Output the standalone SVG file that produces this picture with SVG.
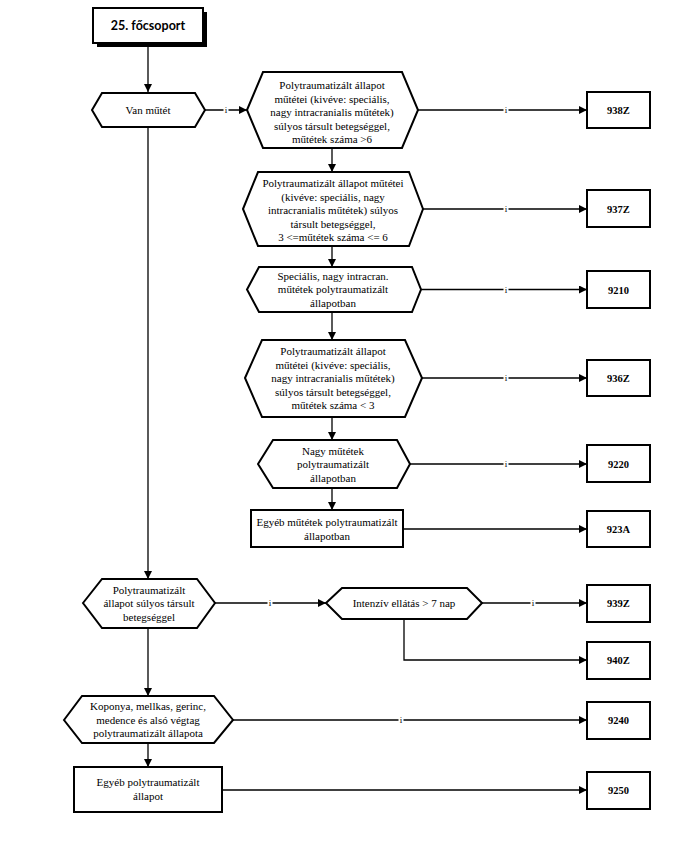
<svg xmlns="http://www.w3.org/2000/svg" width="692" height="864" viewBox="0 0 692 864">
<defs>
<marker id="ah" viewBox="0 0 10 10" refX="10" refY="5" markerWidth="8" markerHeight="8" markerUnits="userSpaceOnUse" orient="auto">
<path d="M0,0 L10,5 L0,10 z" fill="#000"/>
</marker>
<style>
.n{fill:#fff;stroke:#000;stroke-width:2}
.t{font-size:11px;fill:#000;text-anchor:middle}
.c{font-size:10.5px;font-weight:bold;fill:#000;text-anchor:middle}
.e{fill:none;stroke:#000;stroke-width:1.3}
.a{marker-end:url(#ah)}
.l{font-size:9px;fill:#000;text-anchor:middle}
</style>
</defs>
<rect width="692" height="864" fill="#fff"/>
<g font-family="Liberation Serif, Tinos, DejaVu Serif, Times New Roman, serif">
<g id="connectors">
<path class="e a" d="M148,45 V92"/>
<path class="e a" d="M205,110 H247"/>
<path class="e a" d="M148,127 V579"/>
<path class="e a" d="M418,110 H587"/>
<path class="e a" d="M332,148 V172"/>
<path class="e a" d="M423,209 H587"/>
<path class="e a" d="M332,246 V267"/>
<path class="e a" d="M421,289.5 H587"/>
<path class="e a" d="M332,312 V340"/>
<path class="e a" d="M422,378 H587"/>
<path class="e a" d="M332,417 V440"/>
<path class="e a" d="M410,464 H587"/>
<path class="e a" d="M332,488 V510"/>
<path class="e a" d="M403,529 H587"/>
<path class="e a" d="M215,603 H326"/>
<path class="e a" d="M482,603 H587"/>
<path class="e a" d="M404,619 V660 H587"/>
<path class="e a" d="M148,628 V696"/>
<path class="e a" d="M233,720 H587"/>
<path class="e a" d="M148,743 V767"/>
<path class="e a" d="M222,790 H587"/>
<g fill="#fff">
<rect x="223.5" y="104" width="5" height="12"/>
<rect x="503.5" y="104" width="5" height="12"/>
<rect x="503.5" y="203" width="5" height="12"/>
<rect x="503.5" y="283.5" width="5" height="12"/>
<rect x="503.5" y="372" width="5" height="12"/>
<rect x="503.5" y="458" width="5" height="12"/>
<rect x="267.5" y="597" width="5" height="12"/>
<rect x="530.5" y="597" width="5" height="12"/>
<rect x="398.5" y="714" width="5" height="12"/>
</g>
<text class="l" x="226" y="113">i</text>
<text class="l" x="506" y="113">i</text>
<text class="l" x="506" y="212">i</text>
<text class="l" x="506" y="292.5">i</text>
<text class="l" x="506" y="381">i</text>
<text class="l" x="506" y="467">i</text>
<text class="l" x="270" y="606">i</text>
<text class="l" x="533" y="606">i</text>
<text class="l" x="401" y="723">i</text>
</g>

<g id="start">
<rect x="97" y="12" width="110" height="35" fill="#000"/>
<rect class="n" x="93" y="8" width="110" height="35"/>
<text x="148" y="30" font-family="Lato, Open Sans, sans-serif" font-size="12.5" font-weight="bold" text-anchor="middle">25. főcsoport</text>
</g>

<g id="van_mutet">
<path class="n" d="M92,110 L102,93 H195 L205,110 L195,127 H102 z"/>
<text class="t" x="148" y="114">Van műtét</text>
</g>

<g id="h1">
<path class="n" d="M247,110 L263,72 H402 L418,110 L402,148 H263 z"/>
<text class="t" x="332" y="89">Polytraumatizált állapot</text>
<text class="t" x="332" y="102.5">műtétei (kivéve: speciális,</text>
<text class="t" x="332" y="116">nagy intracranialis műtétek)</text>
<text class="t" x="332" y="129.5">súlyos társult betegséggel,</text>
<text class="t" x="332" y="143">műtétek száma &gt;6</text>
</g>

<g id="h2">
<path class="n" d="M243,209 L258,172 H409 L423,209 L409,246 H258 z"/>
<text class="t" x="333" y="187">Polytraumatizált állapot műtétei</text>
<text class="t" x="333" y="200.5">(kivéve: speciális, nagy</text>
<text class="t" x="333" y="214">intracranialis műtétek) súlyos</text>
<text class="t" x="333" y="227.5">társult betegséggel,</text>
<text class="t" x="333" y="241">3 &lt;=műtétek száma &lt;= 6</text>
</g>

<g id="h3">
<path class="n" d="M247,289.5 L259,267 H412 L421,289.5 L412,312 H259 z"/>
<text class="t" x="333" y="279.5">Speciális, nagy intracran.</text>
<text class="t" x="333" y="293">műtétek polytraumatizált</text>
<text class="t" x="333" y="306.5">állapotban</text>
</g>

<g id="h4">
<path class="n" d="M245,378 L262,340 H405 L422,378 L405,417 H262 z"/>
<text class="t" x="333" y="355">Polytraumatizált állapot</text>
<text class="t" x="333" y="368.5">műtétei (kivéve: speciális,</text>
<text class="t" x="333" y="382">nagy intracranialis műtétek)</text>
<text class="t" x="333" y="395.5">súlyos társult betegséggel,</text>
<text class="t" x="333" y="409">műtétek száma &lt; 3</text>
</g>

<g id="h5">
<path class="n" d="M258,464 L273,440 H397 L410,464 L397,488 H273 z"/>
<text class="t" x="333" y="454.5">Nagy műtétek</text>
<text class="t" x="333" y="468">polytraumatizált</text>
<text class="t" x="333" y="481.5">állapotban</text>
</g>

<g id="b_egyeb_mutetek">
<rect class="n" x="251" y="510" width="152" height="37"/>
<text class="t" x="327" y="526">Egyéb műtétek polytraumatizált</text>
<text class="t" x="327" y="539.5">állapotban</text>
</g>

<g id="h_polytr">
<path class="n" d="M83,603 L102,579 H197 L215,603 L197,628 H102 z"/>
<text class="t" x="149" y="593.5">Polytraumatizált</text>
<text class="t" x="149" y="607">állapot súlyos társult</text>
<text class="t" x="149" y="620.5">betegséggel</text>
</g>

<g id="h_intenziv">
<path class="n" d="M326,603 L342,588 H467 L482,603 L467,619 H342 z"/>
<text class="t" x="404" y="607">Intenzív ellátás &gt; 7 nap</text>
</g>

<g id="h_koponya">
<path class="n" d="M64,720 L82,696 H214 L233,720 L214,743 H82 z"/>
<text class="t" x="148" y="710">Koponya, mellkas, gerinc,</text>
<text class="t" x="148" y="723.5">medence és alsó végtag</text>
<text class="t" x="148" y="737">polytraumatizált állapota</text>
</g>

<g id="b_egyeb_polytr">
<rect class="n" x="74" y="767" width="148" height="45"/>
<text class="t" x="148" y="786">Egyéb polytraumatizált</text>
<text class="t" x="148" y="799.5">állapot</text>
</g>

<g id="o938Z"><rect class="n" x="587" y="92" width="63" height="36"/><text class="c" x="618.5" y="114">938Z</text></g>
<g id="o937Z"><rect class="n" x="587" y="190" width="63" height="37"/><text class="c" x="618.5" y="212.5">937Z</text></g>
<g id="o9210"><rect class="n" x="587" y="271" width="63" height="37"/><text class="c" x="618.5" y="293.5">9210</text></g>
<g id="o936Z"><rect class="n" x="587" y="360" width="63" height="36"/><text class="c" x="618.5" y="382">936Z</text></g>
<g id="o9220"><rect class="n" x="587" y="445" width="63" height="37"/><text class="c" x="618.5" y="467.5">9220</text></g>
<g id="o923A"><rect class="n" x="587" y="511" width="63" height="36"/><text class="c" x="618.5" y="533">923A</text></g>
<g id="o939Z"><rect class="n" x="587" y="585" width="63" height="37"/><text class="c" x="618.5" y="607">939Z</text></g>
<g id="o940Z"><rect class="n" x="587" y="642" width="63" height="37"/><text class="c" x="618.5" y="664">940Z</text></g>
<g id="o9240"><rect class="n" x="587" y="702" width="63" height="37"/><text class="c" x="618.5" y="724">9240</text></g>
<g id="o9250"><rect class="n" x="587" y="772" width="63" height="37"/><text class="c" x="618.5" y="794">9250</text></g>
</g>
</svg>
